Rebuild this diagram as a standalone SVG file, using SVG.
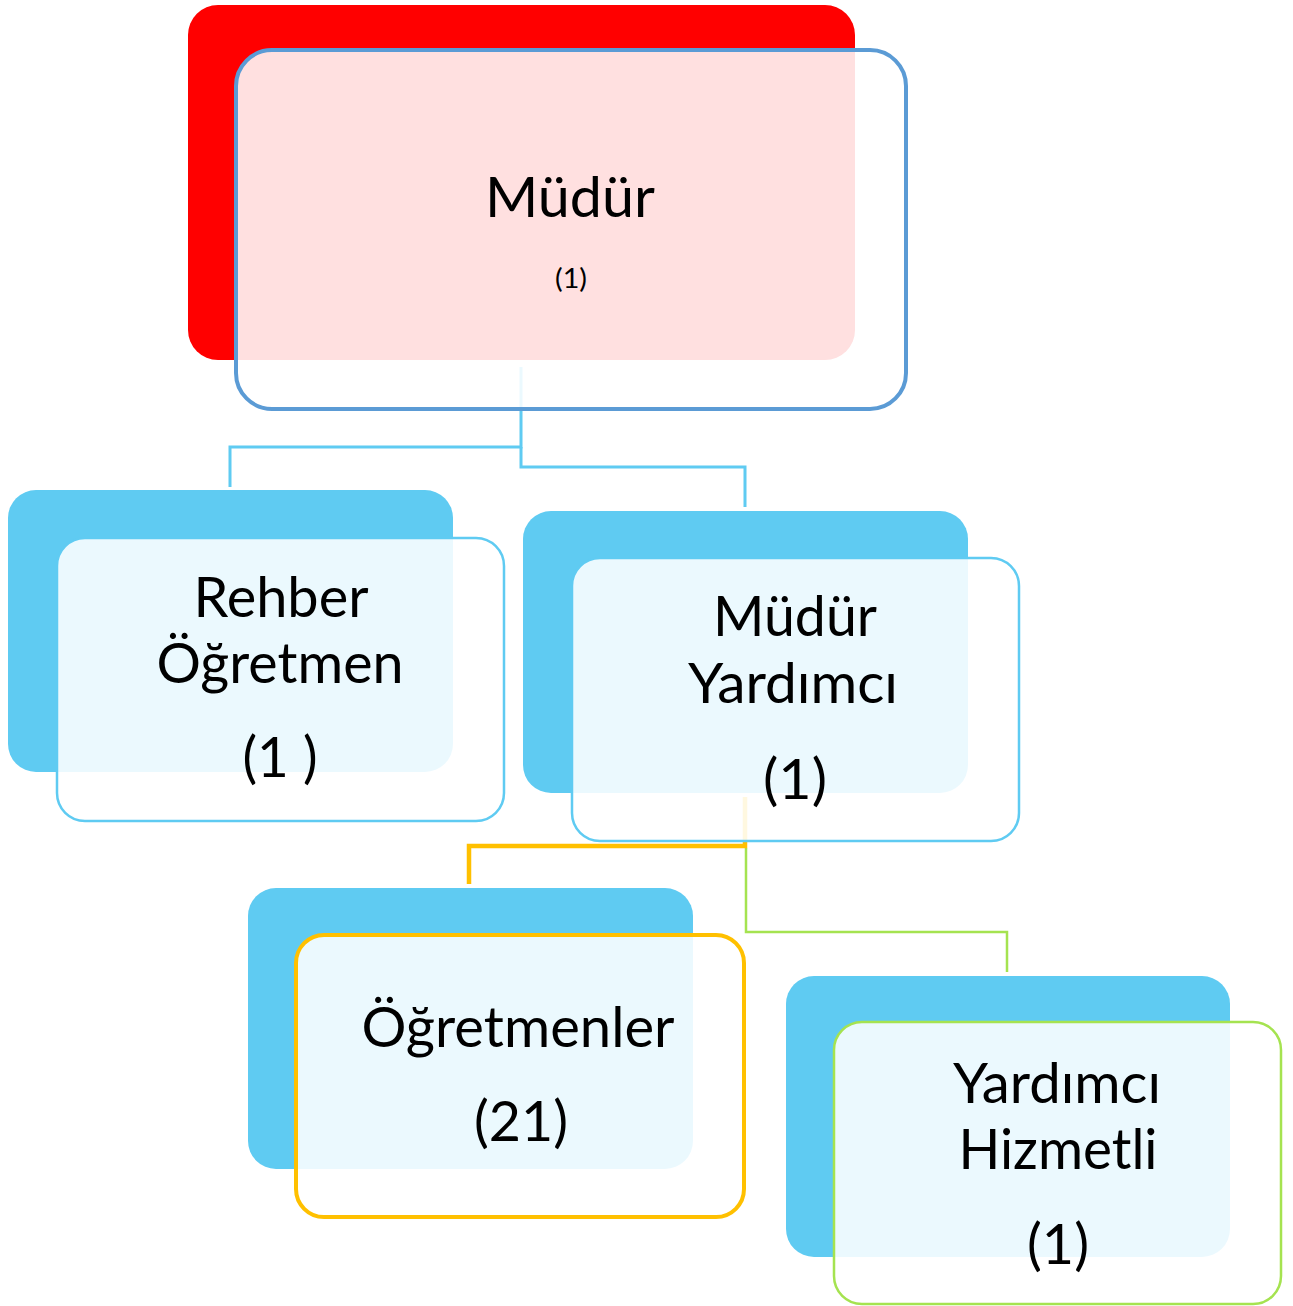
<svg xmlns="http://www.w3.org/2000/svg" width="1293" height="1306" viewBox="0 0 1293 1306">
<style>
.back{fill:#5FCBF2}
.front{fill:#FFFFFF;fill-opacity:0.88}
.t{font-family:Lato,"Open Sans","Liberation Sans",sans-serif;font-size:57px;fill:#000;text-anchor:middle}
.conn{fill:none;stroke-linejoin:miter}
</style>
<rect width="1293" height="1306" fill="#FFFFFF"/>
<g id="connectors">
<path class="conn" d="M521,367 V447 H230 V487" stroke="#5FCBF2" stroke-width="3"/>
<path class="conn" d="M521,447 V467 H745 V507" stroke="#5FCBF2" stroke-width="3"/>
<path class="conn" d="M746,848 V932 H1007 V972" stroke="#A5E350" stroke-width="2.5"/>
<path class="conn" d="M745,797 V846 H469 V884" stroke="#FFC000" stroke-width="4.5"/>
</g>
<g id="mudur">
<rect x="188" y="5" width="667" height="355" rx="30" fill="#FF0000"/>
<rect class="front" x="236" y="50" width="670" height="359" rx="36" stroke="#5B9BD5" stroke-width="4"/>
<text class="t" x="570" y="217" textLength="170" lengthAdjust="spacingAndGlyphs">Müdür</text>
<text class="t" x="571" y="288" style="font-size:26px" textLength="32" lengthAdjust="spacingAndGlyphs">(1)</text>
</g>
<g id="rehber">
<rect class="back" x="8" y="490" width="445" height="282" rx="28"/>
<rect class="front" x="57" y="538" width="447" height="283" rx="28" stroke="#5FCBF2" stroke-width="2.5"/>
<text class="t" x="281" y="617" textLength="175" lengthAdjust="spacingAndGlyphs">Rehber</text>
<text class="t" x="280" y="683" textLength="247" lengthAdjust="spacingAndGlyphs">Öğretmen</text>
<text class="t" x="280" y="777" textLength="75" lengthAdjust="spacingAndGlyphs">(1 )</text>
</g>
<g id="mudur-yardimci">
<rect class="back" x="523" y="511" width="445" height="282" rx="28"/>
<rect class="front" x="572" y="558" width="447" height="283" rx="28" stroke="#5FCBF2" stroke-width="2.5"/>
<text class="t" x="795" y="636" textLength="164" lengthAdjust="spacingAndGlyphs">Müdür</text>
<text class="t" x="793" y="703" textLength="210" lengthAdjust="spacingAndGlyphs">Yardımcı</text>
<text class="t" x="795" y="799" textLength="64" lengthAdjust="spacingAndGlyphs">(1)</text>
</g>
<g id="ogretmenler">
<rect class="back" x="248" y="888" width="445" height="281" rx="28"/>
<rect class="front" x="296" y="935" width="448" height="282" rx="28" stroke="#FFC000" stroke-width="4"/>
<text class="t" x="518" y="1047" textLength="313" lengthAdjust="spacingAndGlyphs">Öğretmenler</text>
<text class="t" x="521" y="1141" textLength="94" lengthAdjust="spacingAndGlyphs">(21)</text>
</g>
<g id="yardimci-hizmetli">
<rect class="back" x="786" y="976" width="444" height="281" rx="28"/>
<rect class="front" x="834" y="1022" width="447" height="282" rx="28" stroke="#A5E350" stroke-width="2.5"/>
<text class="t" x="1057" y="1103" textLength="208" lengthAdjust="spacingAndGlyphs">Yardımcı</text>
<text class="t" x="1058" y="1169" textLength="199" lengthAdjust="spacingAndGlyphs">Hizmetli</text>
<text class="t" x="1058" y="1264" textLength="62" lengthAdjust="spacingAndGlyphs">(1)</text>
</g>
</svg>
